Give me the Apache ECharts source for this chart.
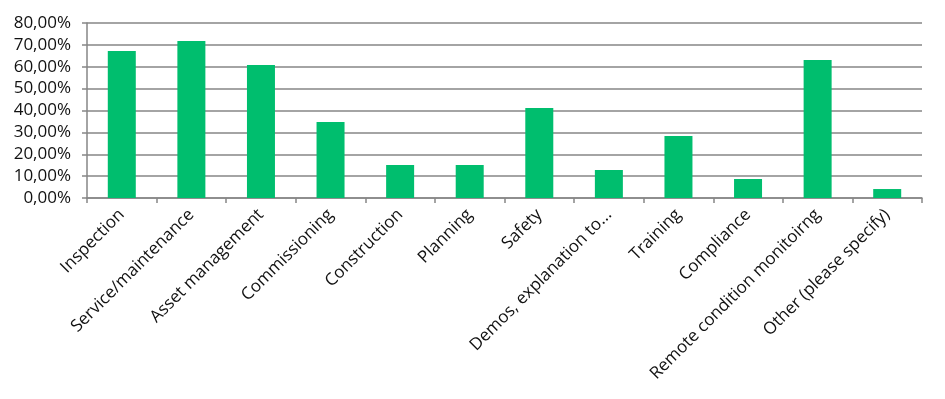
<!DOCTYPE html>
<html>
<head>
<meta charset="utf-8">
<script src="https://cdn.jsdelivr.net/npm/echarts@6/dist/echarts.min.js"></script>
<style>
  html, body { margin: 0; padding: 0; background: #fff; }
  #chart { width: 945px; height: 399px; }
</style>
</head>
<body>
<div id="chart"></div>
<script>
const categories = [
  "Inspection", "Service/maintenance", "Asset management", "Commissioning",
  "Construction", "Planning", "Safety", "Demos, explanation to...",
  "Training", "Compliance", "Remote condition monitoirng", "Other (please specify)"
];
const shares = [67.2, 71.8, 60.8, 34.7, 15.1, 15.1, 41.1, 12.8, 28.3, 8.7, 63.1, 4.1];
const yTicks = [0, 10, 20, 30, 40, 50, 60, 70, 80];

const myChart = echarts.init(document.getElementById("chart"));
const gray = "#868686";
const font = "Open Sans";

const option = {
  animation: false,
  grid: { left: 87, right: 23, top: 23, bottom: 201 },
  xAxis: {
    type: "category",
    data: categories,
    axisLine: { lineStyle: { color: gray, width: 1.5 } },
    axisTick: { show: true, length: 5, lineStyle: { color: gray, width: 1.5 } },
    axisLabel: {
      rotate: 45,
      interval: 0,
      margin: 14,
      color: "#111",
      fontFamily: font,
      fontSize: 17
    }
  },
  yAxis: {
    type: "value",
    min: yTicks[0],
    max: yTicks[yTicks.length - 1],
    interval: 10,
    axisLine: { show: true, lineStyle: { color: gray, width: 1.5 } },
    axisTick: { show: true, length: 5, lineStyle: { color: gray, width: 1.5 } },
    splitLine: { lineStyle: { color: gray, width: 1.5 } },
    axisLabel: {
      margin: 16,
      color: "#111",
      fontFamily: font,
      fontSize: 17,
      formatter: (v) => v.toFixed(2).replace(".", ",") + "%"
    }
  },
  series: [
    {
      type: "bar",
      data: shares,
      barWidth: 28,
      itemStyle: { color: "#00BE6E" }
    }
  ]
};

myChart.setOption(option);
</script>
</body>
</html>
